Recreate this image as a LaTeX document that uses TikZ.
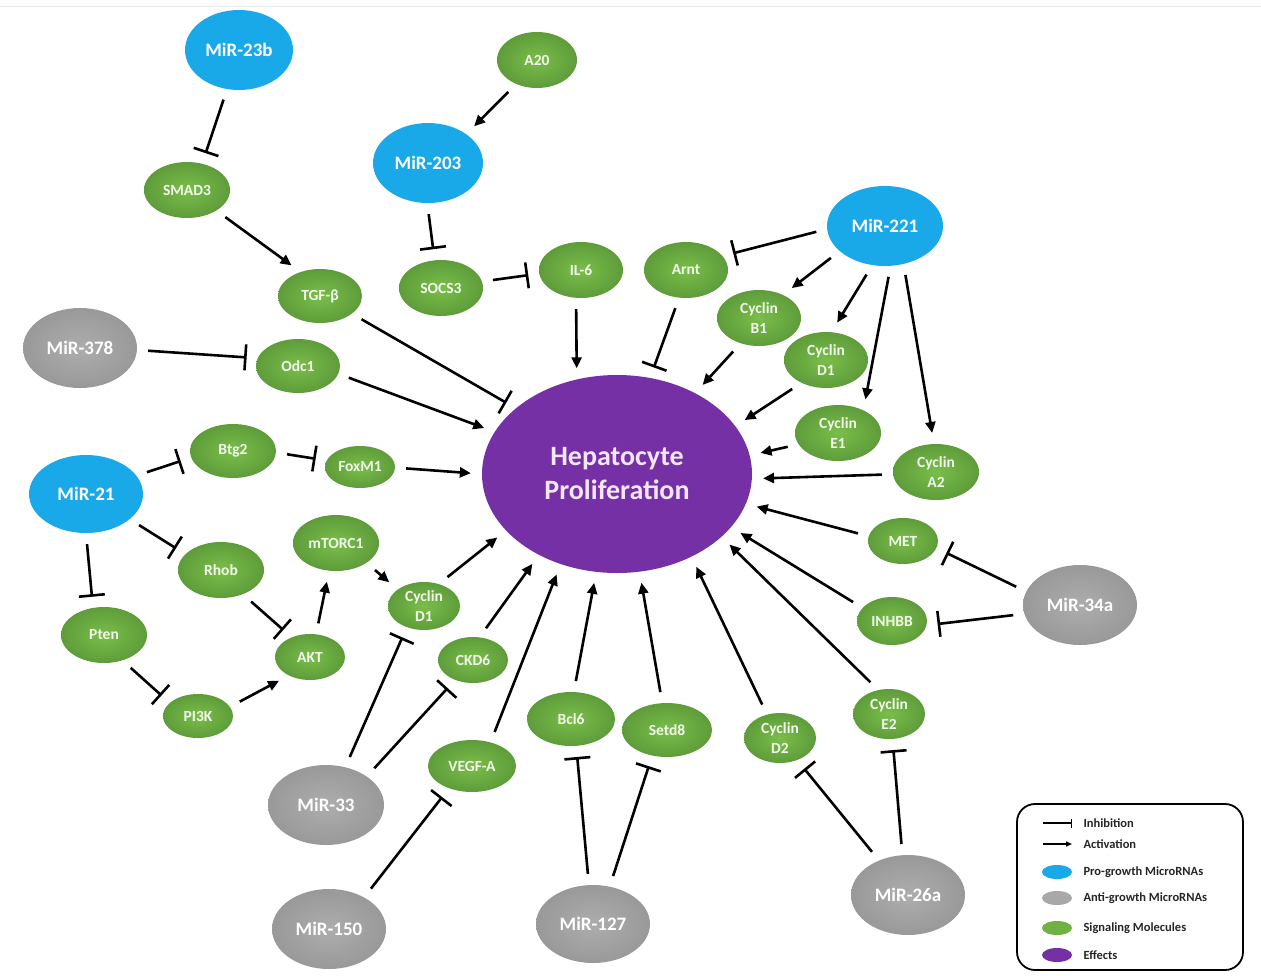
\documentclass[tikz,border=0pt]{standalone}
\usepackage{fontspec}
\setmainfont{Carlito}
\usetikzlibrary{arrows.meta,shapes.geometric}
\definecolor{problue}{HTML}{1AA9E8}
\definecolor{antigray}{HTML}{A8A8A8}
\definecolor{antiin}{HTML}{ADADAD}
\definecolor{antiout}{HTML}{999999}
\definecolor{siggreen}{HTML}{6FB144}
\definecolor{sigin}{HTML}{7ABE4A}
\definecolor{sigout}{HTML}{5E9C3A}
\definecolor{effpurple}{HTML}{7430A4}
\definecolor{sigtext}{HTML}{F2F8EC}
\definecolor{efftext}{HTML}{F4E6FA}
\begin{document}
\begin{tikzpicture}[x=1pt,y=-1pt,
  base/.style={ellipse,inner sep=0pt,align=center},
  sz/.style 2 args={minimum width=#1pt,minimum height=#2pt},
  pro/.style={base,fill=problue,text=white,font=\bfseries\fontsize{19}{21}\selectfont},
  anti/.style={base,inner color=antiin,outer color=antiout,text=white,font=\bfseries\fontsize{19}{21}\selectfont},
  sig/.style={base,inner color=sigin,outer color=sigout,text=sigtext,font=\bfseries\fontsize{15.5}{19.5}\selectfont},
  eff/.style={base,fill=effpurple,text=efftext,font=\bfseries\fontsize{28}{34}\selectfont},
  conn/.style={line width=2.6pt,shorten <=11pt,shorten >=11pt},
  act/.style={conn,-{Triangle[length=11pt,width=10pt]}},
  inh/.style={conn,-{Bar[width=26pt,line width=2.6pt]}},
  legtext/.style={anchor=west,font=\bfseries\fontsize{12.5}{13}\selectfont,text=black!85},
]
\useasboundingbox (0,0) rectangle (1261,975);
\fill[white] (0,0) rectangle (1261,975);
\draw[black!8,line width=1pt] (0,6) -- (1261,6);

% central effect
\node[eff,sz={270}{198}] (hep) at (617,474) {Hepatocyte\\Proliferation};

% microRNAs
\node[pro,sz={108}{80}] (m23b) at (239,50) {MiR-23b};
\node[pro,sz={110}{80}] (m203) at (428,163) {MiR-203};
\node[pro,sz={116}{80}] (m221) at (885,226) {MiR-221};
\node[pro,sz={114}{78}] (m21) at (86,494) {MiR-21};
\node[anti,sz={114}{80}] (m378) at (80,348) {MiR-378};
\node[anti,sz={114}{80}] (m34a) at (1080,605) {MiR-34a};
\node[anti,sz={116}{80}] (m33) at (326,805) {MiR-33};
\node[anti,sz={114}{80}] (m150) at (329,929) {MiR-150};
\node[anti,sz={114}{78}] (m127) at (593,924) {MiR-127};
\node[anti,sz={114}{80}] (m26a) at (908,895) {MiR-26a};

% signaling molecules
\node[sig,sz={86}{56}] (smad3) at (187,190) {SMAD3};
\node[sig,sz={84}{54}] (tgf) at (320,296) {TGF-β};
\node[sig,sz={80}{56}] (a20) at (537,60) {A20};
\node[sig,sz={84}{56}] (socs3) at (441,288) {SOCS3};
\node[sig,sz={84}{56}] (il6) at (581,270) {IL-6};
\node[sig,sz={84}{56}] (arnt) at (686,270) {Arnt};
\node[sig,sz={84}{56}] (cycb1) at (759,318) {Cyclin\\B1};
\node[sig,sz={84}{56}] (cycd1) at (826,360) {Cyclin\\D1};
\node[sig,sz={86}{56}] (cyce1) at (838,433) {Cyclin\\E1};
\node[sig,sz={86}{56}] (cyca2) at (936,472) {Cyclin\\A2};
\node[sig,sz={70}{46}] (met) at (903,541) {MET};
\node[sig,sz={70}{48}] (inhbb) at (892,621) {INHBB};
\node[sig,sz={72}{50}] (cyce2) at (889,714) {Cyclin\\E2};
\node[sig,sz={72}{50}] (cycd2) at (780,738) {Cyclin\\D2};
\node[sig,sz={90}{54}] (setd8) at (667,730) {Setd8};
\node[sig,sz={88}{54}] (bcl6) at (571,719) {Bcl6};
\node[sig,sz={88}{52}] (vegf) at (472,766) {VEGF-A};
\node[sig,sz={70}{46}] (ckd6) at (473,660) {CKD6};
\node[sig,sz={72}{48}] (cycd1l) at (424,606) {Cyclin\\D1};
\node[sig,sz={86}{56}] (mtorc1) at (336,543) {mTORC1};
\node[sig,sz={70}{46}] (akt) at (310,657) {AKT};
\node[sig,sz={70}{44}] (pi3k) at (198,716) {PI3K};
\node[sig,sz={86}{56}] (pten) at (104,635) {Pten};
\node[sig,sz={86}{56}] (rhob) at (221,570) {Rhob};
\node[sig,sz={86}{54}] (btg2) at (233,451) {Btg2};
\node[sig,sz={70}{42}] (foxm1) at (360,467) {FoxM1};
\node[sig,sz={84}{54}] (odc1) at (298,366) {Odc1};

% connectors
\draw[inh] (m23b.-107) -- (smad3.60);
\draw[act] (smad3.-35) -- (tgf.129);
\draw[act] (a20.-131) -- (m203.37);
\draw[inh] (m203.-91) -- (socs3.103);
\draw[inh] (socs3.9) -- (il6.185);
\draw[act] (il6.-100) -- (hep.113);
\draw[inh] (arnt.-104) -- (hep.71);
\draw[inh] (m221.183) -- (arnt.21);
\draw[act] (m221.-151) -- (cycb1.44);
\draw[act] (m221.-108) -- (cycd1.79);
\draw[act] (m221.-82) -- (cyce1.42);
\draw[act] (m221.-64) -- (cyca2.94);
\draw[act] (cycb1.-126) -- (hep.46);
\draw[act] (cycd1.-137) -- (hep.22);
\draw[act] (cyce1.-164) -- (hep.8);
\draw[act] (cyca2.183) -- (hep.-2);
\draw[act] (met.172) -- (hep.-13);
\draw[act] (inhbb.156) -- (hep.-25);
\draw[act] (cyce2.114) -- (hep.-31);
\draw[inh] (m34a.166) -- (met.-12);
\draw[inh] (m34a.189) -- (inhbb.-7);
\draw[act] (cycd2.119) -- (hep.-48);
\draw[inh] (m26a.130) -- (cycd2.-52);
\draw[inh] (m26a.98) -- (cyce2.-82);
\draw[act] (setd8.100) -- (hep.-77);
\draw[act] (bcl6.84) -- (hep.-102);
\draw[inh] (m127.96) -- (bcl6.-79);
\draw[inh] (m127.66) -- (setd8.-120);
\draw[act] (vegf.52) -- (hep.-122);
\draw[inh] (m150.42) -- (vegf.-136);
\draw[inh] (m33.63) -- (cycd1l.-129);
\draw[inh] (m33.35) -- (ckd6.-132);
\draw[act] (ckd6.74) -- (hep.-134);
\draw[act] (cycd1l.56) -- (hep.-153);
\draw[act] (mtorc1.-33) -- (cycd1l.148);
\draw[act] (akt.75) -- (mtorc1.-104);
\draw[inh] (rhob.-48) -- (akt.133);
\draw[act] (pi3k.16) -- (akt.-139);
\draw[inh] (pten.-54) -- (pi3k.155);
\draw[inh] (m21.-90) -- (pten.112);
\draw[inh] (m21.-30) -- (rhob.156);
\draw[inh] (m21.20) -- (btg2.189);
\draw[inh] (btg2.-2) -- (foxm1.169);
\draw[act] (foxm1.-1) -- (hep.180);
\draw[inh] (m378.-2) -- (odc1.169);
\draw[act] (odc1.-11) -- (hep.161);
\draw[inh] (tgf.-29) -- (hep.147);

% legend
\node[draw=black,line width=1.8pt,rounded corners=18pt,minimum width=226pt,minimum height=166pt,inner sep=0pt] (legend) at (1130,887) {};
\coordinate (lia) at (1043,823);
\coordinate (lib) at (1072,823);
\coordinate (laa) at (1043,844);
\coordinate (lab) at (1072,844);
\draw[line width=1.4pt,-{Bar[width=9pt,line width=1.4pt]}] (lia) -- (lib);
\draw[line width=1.4pt,-{Triangle[length=6pt,width=5pt]}] (laa) -- (lab);
\node[base,fill=problue,sz={30}{14}] (lpro) at (1057,872) {};
\node[base,fill=antigray,sz={30}{14}] (lanti) at (1057,898) {};
\node[base,fill=siggreen,sz={30}{14}] (lsig) at (1057,928) {};
\node[base,fill=effpurple,sz={30}{14}] (leff) at (1057,955) {};
\node[legtext] (tinh) at (1080,823) {Inhibition};
\node[legtext] (tact) at (1080,844) {Activation};
\node[legtext] (tpro) at (1080,872) {Pro-growth MicroRNAs};
\node[legtext] (tanti) at (1080,898) {Anti-growth MicroRNAs};
\node[legtext] (tsig) at (1080,928) {Signaling Molecules};
\node[legtext] (teff) at (1080,955) {Effects};
\end{tikzpicture}
\end{document}
